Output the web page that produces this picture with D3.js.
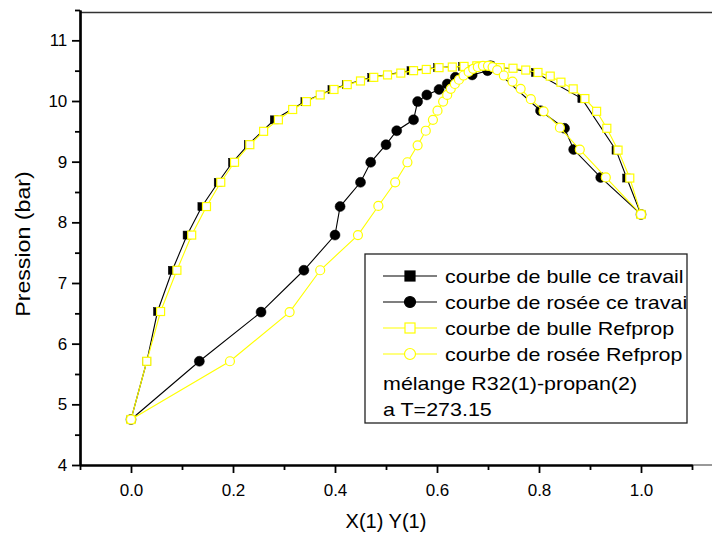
<!DOCTYPE html>
<html><head><meta charset="utf-8">
<script src="https://cdn.jsdelivr.net/npm/d3@7"></script>
<style>
html,body{margin:0;padding:0;background:#fff;}
svg{display:block;font-family:"Liberation Sans",Arial,sans-serif;}
</style></head>
<body><svg id="c" width="712" height="533"></svg>
<script>
// ---- data: [x(1) or y(1), pressure (bar)] ----
const bubbleWork = [[0,4.75],[0.031,5.71],[0.052,6.53],[0.081,7.21],[0.110,7.79],[0.139,8.26],[0.171,8.66],[0.199,8.99],[0.230,9.28],[0.281,9.69],[0.341,9.99],[0.394,10.19],[0.422,10.27],[0.472,10.39],[0.549,10.50],[0.601,10.55],[0.650,10.57],[0.705,10.58],[0.793,10.47],[0.884,10.04],[0.951,9.19],[0.972,8.73],[1.0,8.13]];
const dewWork = [[0,4.75],[0.134,5.71],[0.255,6.52],[0.339,7.21],[0.400,7.79],[0.410,8.26],[0.450,8.66],[0.470,8.99],[0.500,9.28],[0.521,9.51],[0.554,9.69],[0.562,9.99],[0.580,10.10],[0.604,10.19],[0.620,10.28],[0.636,10.39],[0.669,10.43],[0.699,10.50],[0.705,10.58],[0.803,9.84],[0.850,9.55],[0.868,9.20],[0.921,8.74],[1.0,8.13]];
const bubbleRef = [[0,4.75],[0.031,5.71],[0.058,6.53],[0.090,7.21],[0.119,7.79],[0.148,8.26],[0.176,8.66],[0.203,8.99],[0.233,9.28],[0.260,9.50],[0.289,9.69],[0.317,9.86],[0.344,9.99],[0.371,10.10],[0.398,10.19],[0.424,10.27],[0.450,10.33],[0.476,10.39],[0.503,10.43],[0.529,10.46],[0.554,10.50],[0.579,10.52],[0.604,10.55],[0.630,10.56],[0.653,10.57],[0.678,10.58],[0.700,10.58],[0.724,10.55],[0.749,10.54],[0.774,10.51],[0.798,10.47],[0.822,10.41],[0.843,10.31],[0.867,10.20],[0.890,10.04],[0.913,9.83],[0.933,9.55],[0.955,9.19],[0.978,8.73],[1.0,8.13]];
const dewRef = [[0,4.75],[0.194,5.71],[0.311,6.52],[0.371,7.21],[0.445,7.79],[0.485,8.27],[0.518,8.66],[0.542,8.99],[0.562,9.27],[0.578,9.51],[0.592,9.69],[0.601,9.84],[0.612,9.99],[0.620,10.10],[0.627,10.20],[0.635,10.28],[0.643,10.35],[0.652,10.42],[0.662,10.48],[0.671,10.53],[0.680,10.56],[0.690,10.58],[0.700,10.58],[0.709,10.56],[0.718,10.51],[0.731,10.42],[0.748,10.32],[0.764,10.20],[0.784,10.03],[0.809,9.83],[0.841,9.56],[0.880,9.20],[0.931,8.74],[1.0,8.13]];
const xTicks = [0.0,0.2,0.4,0.6,0.8,1.0];
const xMinor = [-0.1,0.1,0.3,0.5,0.7,0.9,1.1];
const yTicks = [4,5,6,7,8,9,10,11];
const yMinor = [4.5,5.5,6.5,7.5,8.5,9.5,10.5,11.5];
const legendItems = ["courbe de bulle ce travail","courbe de rosée ce travai","courbe de bulle Refprop","courbe de rosée Refprop"];
const legendNotes = ["mélange R32(1)-propan(2)","a T=273.15"];
const xTitle = "X(1) Y(1)";
const yTitle = "Pression (bar)";

const svg = d3.select("#c");
const x = d3.scaleLinear().domain([-0.1,1.1]).range([80,692]);
const y = d3.scaleLinear().domain([4,11.5]).range([465,10]);
const YEL = "#ffff00";

// frame lines
svg.append("line").attr("x1",80).attr("x2",712).attr("y1",12.5).attr("y2",12.5).attr("stroke","#333").attr("stroke-width",1.5);
svg.append("line").attr("x1",692).attr("x2",712).attr("y1",465).attr("y2",465).attr("stroke","#333").attr("stroke-width",1);

// axes
const xAxis = svg.append("g").attr("transform","translate(0,465)")
  .call(d3.axisBottom(x).tickValues(xTicks).tickFormat(d3.format(".1f")).tickSize(8).tickSizeOuter(0));
svg.append("g").attr("transform","translate(0,465)")
  .call(d3.axisBottom(x).tickValues(xMinor).tickFormat("").tickSize(5).tickSizeOuter(0));
const yAxis = svg.append("g").attr("transform","translate(80,0)")
  .call(d3.axisLeft(y).tickValues(yTicks).tickFormat(d3.format("d")).tickSize(8).tickSizeOuter(0));
svg.append("g").attr("transform","translate(80,0)")
  .call(d3.axisLeft(y).tickValues(yMinor).tickFormat("").tickSize(5).tickSizeOuter(0));
svg.selectAll(".domain").attr("stroke","#000").attr("stroke-width",2.2);
svg.selectAll(".tick line").attr("stroke","#000").attr("stroke-width",1.8);
xAxis.selectAll("text").attr("font-size",17).attr("dy","1.2em").attr("fill","#000").attr("font-family","Liberation Sans, Arial, sans-serif");
yAxis.selectAll("text").attr("font-size",17).attr("dx","-0.1em").attr("fill","#000").attr("font-family","Liberation Sans, Arial, sans-serif");

// titles
svg.append("text").attr("x",386).attr("y",528).attr("text-anchor","middle").attr("font-size",20).text(xTitle);
svg.append("text").attr("transform","translate(30,244) rotate(-90) scale(1.16,1)").attr("text-anchor","middle").attr("font-size",20).text(yTitle);

const line = d3.line().x(d=>x(d[0])).y(d=>y(d[1]));
const plot = svg.append("g");

function series(data, color, shape, filled){
  plot.append("path").datum(data).attr("d",line).attr("fill","none").attr("stroke",color).attr("stroke-width",1.1);
  const g = plot.append("g");
  if(shape==="sq"){
    g.selectAll("rect").data(data).join("rect")
      .attr("x",d=>x(d[0])-4).attr("y",d=>y(d[1])-4).attr("width",8).attr("height",8)
      .attr("fill",filled?color:"#fff").attr("stroke",color).attr("stroke-width",filled?0.5:1.2);
  } else {
    g.selectAll("circle").data(data).join("circle")
      .attr("cx",d=>x(d[0])).attr("cy",d=>y(d[1])).attr("r",filled?5:4.5)
      .attr("fill",filled?color:"#fff").attr("stroke",color).attr("stroke-width",filled?0.5:1.2);
  }
}
series(bubbleWork,"#000","sq",true);
series(dewWork,"#000","ci",true);
series(bubbleRef,YEL,"sq",false);
series(dewRef,YEL,"ci",false);

// legend
const lg = svg.append("g");
lg.append("rect").attr("x",365).attr("y",254).attr("width",322).attr("height",169).attr("fill","#fff").attr("stroke","#222").attr("stroke-width",1.3);
const specs = [["#000","sq",true],["#000","ci",true],[YEL,"sq",false],[YEL,"ci",false]];
legendItems.forEach((t,i)=>{
  const cy = 276 + i*26;
  const [c,s,f] = specs[i];
  lg.append("line").attr("x1",383).attr("x2",437).attr("y1",cy).attr("y2",cy).attr("stroke",c).attr("stroke-width",1.1);
  if(s==="sq") lg.append("rect").attr("x",405).attr("y",cy-5).attr("width",10).attr("height",10).attr("fill",f?c:"#fff").attr("stroke",c).attr("stroke-width",1.2);
  else lg.append("circle").attr("cx",410).attr("cy",cy).attr("r",5.5).attr("fill",f?c:"#fff").attr("stroke",c).attr("stroke-width",1.2);
  lg.append("text").attr("transform",`translate(445,${cy+7}) scale(1.13,1)`).attr("font-size",19).text(t);
});
legendNotes.forEach((t,i)=>{
  lg.append("text").attr("transform",`translate(383,${383+7+i*26}) scale(1.13,1)`).attr("font-size",19).text(t);
});
</script></body></html>
